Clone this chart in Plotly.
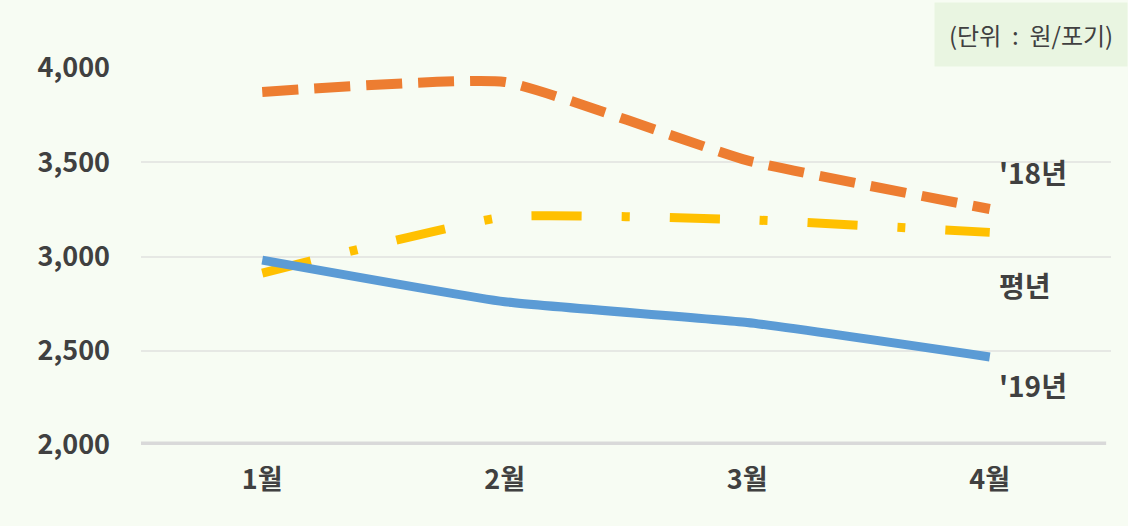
import plotly.graph_objects as go

months = ["1월", "2월", "3월", "4월"]
y18 = [3873, 3926, 3510, 3252]
avg = [2912, 3210, 3195, 3128]
y19 = [2981, 2760, 2650, 2467]
yticks = [2000, 2500, 3000, 3500, 4000]
ytick_text = ["2,000", "2,500", "3,000", "3,500", "4,000"]

font_main = "Noto Sans CJK KR"
txt = "#404040"

fig = go.Figure()
fig.add_trace(go.Scatter(x=months, y=y18, mode="lines", name="'18년",
                         line=dict(color="#ED7D31", width=10, dash="36px,16px",
                                   shape="spline", smoothing=0.4)))
fig.add_trace(go.Scatter(x=months, y=avg, mode="lines", name="평년",
                         line=dict(color="#FFC000", width=9, dash="50px,40px,8px,40px",
                                   shape="spline", smoothing=0.4)))
fig.add_trace(go.Scatter(x=months, y=y19, mode="lines", name="'19년",
                         line=dict(color="#5B9BD5", width=9,
                                   shape="spline", smoothing=0.4)))

# baseline
fig.add_shape(type="line", xref="paper", yref="y", x0=0, x1=0.995, y0=2000, y1=2000,
              line=dict(color="#d9d9d9", width=7), layer="below")

labels = [("'18년", 3450), ("평년", 2850), ("'19년", 2320)]
for t, yv in labels:
    fig.add_annotation(x=3.03, y=yv, xref="x", yref="y", text=f"<b>{t}</b>",
                       showarrow=False, xanchor="left",
                       font=dict(family=font_main, size=28, color=txt))

fig.add_annotation(x=1, y=1, xref="paper", yref="paper", xanchor="right", yanchor="top",
                   text="(단위&nbsp;&nbsp;:&nbsp;&nbsp;원/포기)", showarrow=False,
                   font=dict(family=font_main, size=24, color=txt),
                   bgcolor="#e9f5e1", borderpad=14, yshift=66, xshift=17)

fig.update_layout(
    width=1128, height=526,
    margin=dict(l=141, r=17, t=68, b=81),
    paper_bgcolor="#f7fcf3", plot_bgcolor="#f7fcf3",
    showlegend=False,
    font=dict(family=font_main, color=txt),
    xaxis=dict(type="category", range=[-0.5, 3.5], showgrid=False, zeroline=False,
               showline=False, ticks="", tickfont=dict(size=27, color=txt, family=font_main),
               ticklabelstandoff=16,
               tickvals=months, ticktext=[f"<b>{m}</b>" for m in months]),
    yaxis=dict(range=[2000, 4000], tickvals=yticks,
               ticktext=[f"<b>{t}</b>" for t in ytick_text],
               showgrid=True, gridcolor="#e6e8e4", gridwidth=1.5, zeroline=False,
               showline=False, ticks="", ticklabelstandoff=30,
               tickfont=dict(size=27, color=txt, family=font_main)),
)

fig.write_html("out.html")
